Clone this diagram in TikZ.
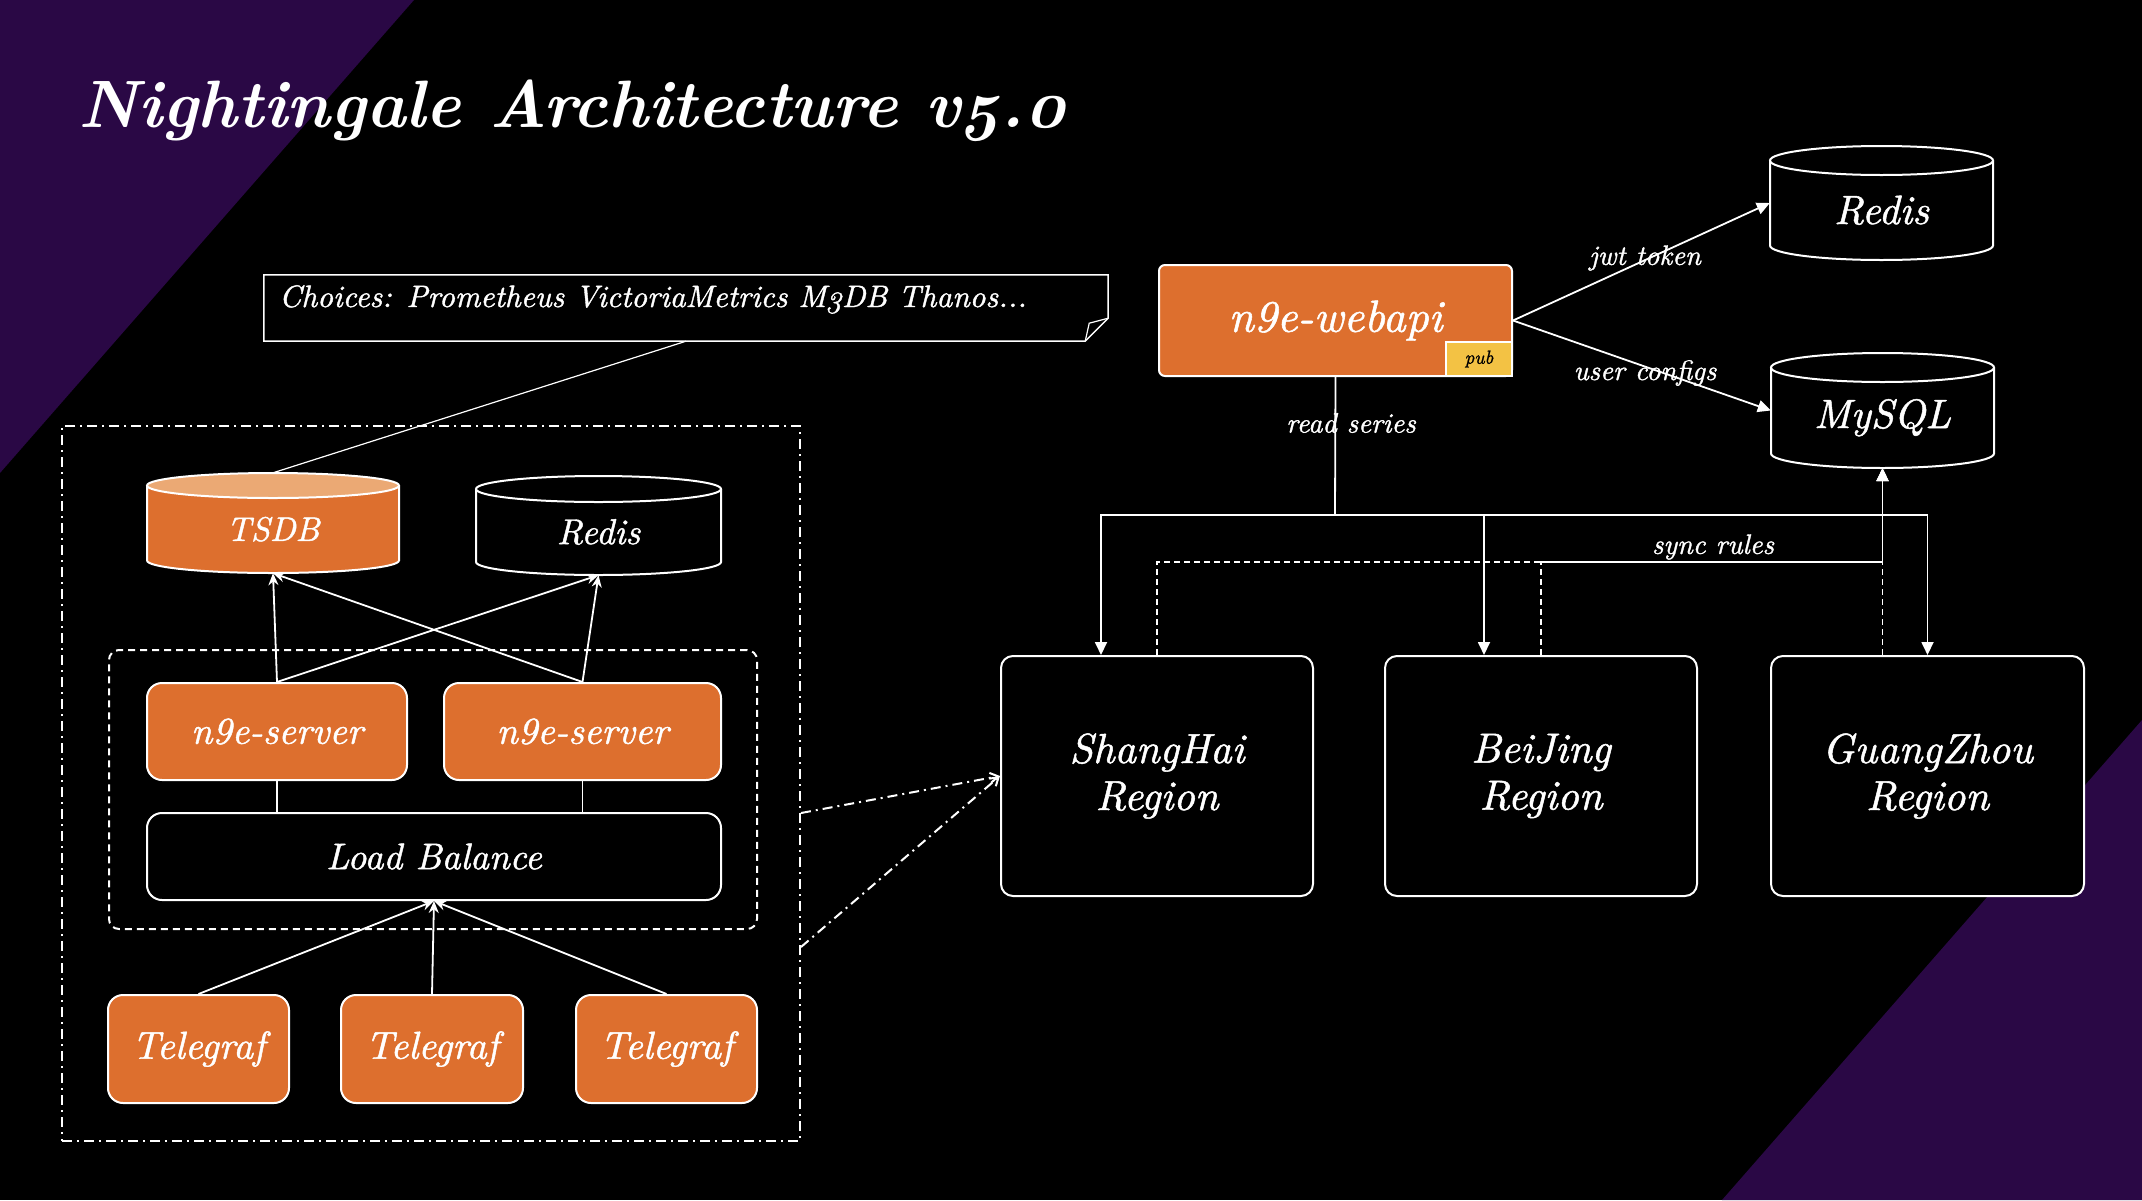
\documentclass[tikz,border=0pt]{standalone}
\usepackage{fontspec}
\setmainfont{lmroman10}[Extension=.otf, UprightFont=*-regular, ItalicFont=*-italic, BoldFont=*-bold, BoldItalicFont=*-bolditalic, Numbers=OldStyle, ItalicFeatures={FakeBold=1.2}]
\usetikzlibrary{arrows.meta}
\definecolor{bgpurple}{HTML}{2A0845}
\definecolor{n9orange}{HTML}{DD6F2E}
\definecolor{n9light}{HTML}{EBA974}
\definecolor{n9yellow}{HTML}{F3C244}
\newcommand\fsz[2]{\fontsize{#1}{#2}\selectfont}
\newcommand\linnine{{\addfontfeatures{Numbers=Lining}9}}
% #1 name, #2 cx, #3 cy, #4 w, #5 h, #6 ry, #7 body fill, #8 top fill, #9 text
\newcommand\dbcyl[9]{%
  \fill[#7] (#2-#4/2, #3-#5/2+#6) rectangle (#2+#4/2, #3+#5/2-#6);
  \fill[#7] (#2, #3+#5/2-#6) ellipse [x radius=#4/2, y radius=#6];
  \draw[cylline] (#2-#4/2, #3-#5/2+#6) -- (#2-#4/2, #3+#5/2-#6)
     arc[start angle=180, end angle=0, x radius=#4/2, y radius=#6] -- (#2+#4/2, #3-#5/2+#6);
  \filldraw[cylline, fill=#8] (#2, #3-#5/2+#6) ellipse [x radius=#4/2, y radius=#6];
  \node[cylnode, minimum width=#4pt, minimum height=#5pt] (#1) at (#2,#3) {\raisebox{\dimexpr-#6pt/2\relax}[\height][\depth]{#9}};
}
\tikzset{
  cylline/.style={draw=white, line width=2pt},
  cylnode/.style={rectangle, inner sep=0pt, text=white},
  obox/.style={rectangle, rounded corners=15pt, fill=n9orange, draw=white, line width=2pt, text=white, inner sep=0pt},
  kbox/.style={rectangle, rounded corners=15pt, fill=black, draw=white, line width=2pt, text=white, inner sep=0pt},
  regionbox/.style={kbox, rounded corners=12pt, minimum width=312pt, minimum height=240pt, align=center, font=\fsz{42}{47}\itshape},
  lbl/.style={text=white, font=\fsz{28}{32}\itshape, inner sep=0pt},
  conn/.style={draw=white, line width=1.8pt},
  stl/.style={conn, -{Stealth[length=12pt,width=10pt]}},
  tri/.style={conn, -{Triangle[length=13pt,width=12pt]}},
  syncline/.style={conn, dash pattern=on 6pt off 4pt, -{Triangle[length=13pt,width=12pt]}},
  dashdotline/.style={draw=white, line width=2pt, dash pattern=on 10pt off 5pt on 2pt off 5pt},
  tgbox/.style={obox, minimum width=181pt, minimum height=108pt, font=\fsz{39}{44}\itshape},
  srvbox/.style={obox, minimum height=97pt, font=\fsz{38}{43}\itshape},
}
\begin{document}
\begin{tikzpicture}[x=1pt, y=-1pt]
\useasboundingbox (0,0) rectangle (2142,1200);
% background
\fill[black] (0,0) rectangle (2142,1200);
\fill[bgpurple] (0,0) -- (414,0) -- (0,473) -- cycle;
\fill[bgpurple] (2142,720) -- (2142,1200) -- (1722,1200) -- cycle;

% title
\node[anchor=base west, text=white, inner sep=0pt, font=\fsz{67}{72}\bfseries\itshape] (title) at (78,127) {Nightingale Architecture v5.0};

% note
\node[rectangle, inner sep=0pt, minimum width=844pt, minimum height=66pt] (note) at (686,308) {};
\draw[white, line width=1.5pt] (note.north west) -- (note.north east) -- ([yshift=23pt]note.south east) -- ([xshift=-23pt]note.south east) -- (note.south west) -- cycle;
\draw[white, line width=1.2pt] ([yshift=23pt]note.south east) -- ([xshift=-19pt,yshift=18pt]note.south east) -- ([xshift=-23pt]note.south east);
\node[anchor=base west, text=white, inner sep=0pt, font=\fsz{31}{35}\itshape] (notetext) at (279,307) {Choices: Prometheus VictoriaMetrics M3DB Thanos...};

% left cluster boxes
\node[rectangle, inner sep=0pt, minimum width=738pt, minimum height=715pt, draw=white, line width=2pt, dash pattern=on 10pt off 5pt on 2pt off 5pt] (outer) at (431,783.5) {};
\node[rectangle, inner sep=0pt, minimum width=648pt, minimum height=279pt, draw=white, line width=2pt, rounded corners=10pt, dash pattern=on 7pt off 5pt] (inner) at (433,789.5) {};

\dbcyl{tsdb}{273}{523}{252}{100}{12.5}{n9orange}{n9light}{\fsz{34}{38}\itshape TSDB}
\dbcyl{redisl}{598.5}{525.5}{245}{99}{13}{black}{black}{\fsz{36}{40}\itshape Redis}

\node[srvbox, minimum width=260pt] (s1) at (277,731.5) {n\linnine e-server};
\node[srvbox, minimum width=277pt] (s2) at (582.5,731.5) {n\linnine e-server};
\node[kbox, minimum width=574pt, minimum height=87pt, font=\fsz{37}{42}\itshape] (lb) at (434,856.5) {Load Balance};
\node[tgbox] (tg1) at (198.5,1049) {Telegraf};
\node[tgbox, minimum width=182pt] (tg2) at (432,1049) {Telegraf};
\node[tgbox] (tg3) at (666.5,1049) {Telegraf};

% left connectors
\draw[white, line width=1.2pt] (note.south) -- (tsdb.north);
\draw[stl] (s1.north) -- (tsdb.south);
\draw[stl] (s1.north) -- (redisl.south);
\draw[stl] (s2.north) -- (tsdb.south);
\draw[stl] (s2.north) -- (redisl.south);
\draw[conn] (s1.south) -- (s1.south |- lb.north);
\draw[conn] (s2.south) -- (s2.south |- lb.north);
\draw[stl] (tg1.north) -- (lb.south);
\draw[stl] (tg2.north) -- (lb.south);
\draw[stl] (tg3.north) -- (lb.south);

% right side
\node[obox, rounded corners=6pt, minimum width=353pt, minimum height=111pt, font=\fsz{45}{50}\itshape] (webapi) at (1335.5,320.5) {n\linnine e-webapi};
\node[rectangle, fill=n9yellow, draw=white, line width=1.5pt, inner sep=0pt, minimum width=66pt, minimum height=34pt, font=\fsz{19}{22}\itshape] (pub) at (1479,359) {pub};

\dbcyl{redisr}{1881.5}{203}{223}{114}{14.5}{black}{black}{\fsz{41}{46}\itshape Redis}
\dbcyl{mysql}{1882.5}{410.5}{223}{115}{14.5}{black}{black}{\fsz{41}{46}\itshape MySQL}

\node[regionbox] (sh) at (1157,776) {ShangHai\\Region};
\node[regionbox] (bj) at (1541,776) {BeiJing\\Region};
\node[regionbox, minimum width=313pt] (gz) at (1927.5,776) {GuangZhou\\Region};

\draw[tri] (webapi.east) -- (redisr.west);
\draw[tri] (webapi.east) -- (mysql.west);
\node[lbl] (jwt) at (1645,258) {jwt token};
\node[lbl] (ucfg) at (1645,373) {user configs};

\coordinate (bus) at (1335,515);
\draw[conn] (webapi.south) -- (bus);
\draw[tri] (bus) -| ([xshift=101pt]sh.north west);
\draw[tri] (bus) -| ([xshift=100pt]bj.north west);
\draw[tri] (bus) -| (gz.north);
\node[lbl] (rs) at (1351,423) {read series};

\coordinate (sync) at (1882.5,562);
\draw[syncline] (sh.north) |- (sync) -- (mysql.south);
\draw[syncline] (bj.north) |- (sync) -- (mysql.south);
\draw[syncline] (mysql.south |- gz.north) -- (mysql.south);
\node[lbl] (sr) at (1713,547) {sync rules};

% dash-dot links from cluster to ShangHai
\draw[dashdotline, -{Straight Barb[length=8pt,width=10pt]}] ([yshift=-29.5pt]outer.east) -- (sh.west);
\draw[dashdotline, -{Straight Barb[length=8pt,width=10pt]}] ([yshift=-163.5pt]outer.east) -- (sh.west);
\end{tikzpicture}
\end{document}
